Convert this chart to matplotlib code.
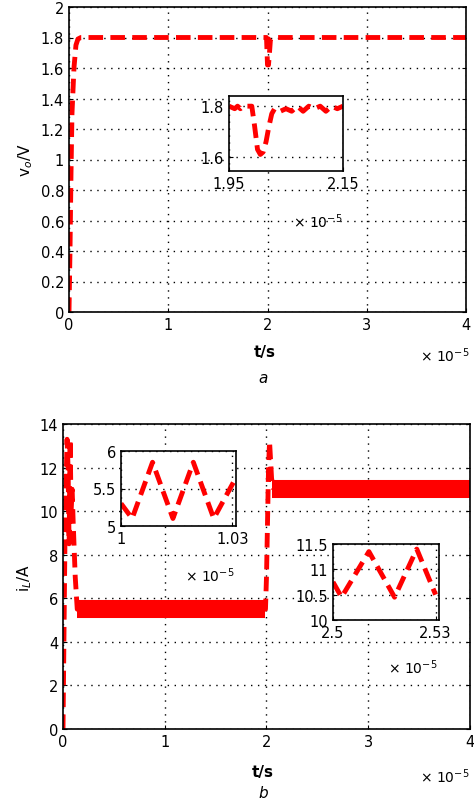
import matplotlib
matplotlib.use("Agg")
import matplotlib.pyplot as plt

RED = "#ff0000"

# panel a: output voltage (time in units of 1e-5 s)
va_t = [0.0, 0.01, 0.02, 0.03, 0.05, 0.07, 0.09, 0.12, 0.5, 1.0, 1.5, 1.98, 1.99, 2.0, 2.01, 2.02, 2.03, 2.05, 3.0, 4.0]
va_v = [0.0, 0.4, 0.9, 1.3, 1.6, 1.75, 1.79, 1.8, 1.8, 1.8, 1.8, 1.8, 1.8, 1.62, 1.62, 1.7, 1.79, 1.8, 1.8, 1.8]
ina_t = [1.95, 1.96, 1.965, 1.97, 1.975, 1.98, 1.99, 1.995, 2.0, 2.005, 2.01, 2.015, 2.02, 2.025, 2.03, 2.04,
         2.05, 2.06, 2.07, 2.08, 2.09, 2.1, 2.11, 2.12, 2.13, 2.14, 2.15]
ina_v = [1.8, 1.79, 1.8, 1.79, 1.8, 1.8, 1.8, 1.72, 1.63, 1.61, 1.62, 1.66, 1.72, 1.77, 1.79, 1.78,
         1.79, 1.78, 1.8, 1.78, 1.8, 1.79, 1.8, 1.78, 1.8, 1.79, 1.8]

# panel b: inductor current
ib_t = [0.0, 0.02, 0.04, 0.05, 0.06, 0.07, 0.08, 0.09, 0.1, 0.12, 0.14, 1.99, 2.0, 2.02, 2.03, 2.05, 2.07]
ib_v = [0.0, 9.0, 13.3, 12.0, 8.5, 13.3, 10.0, 11.0, 9.5, 7.0, 5.5, 5.5, 7.0, 12.0, 13.2, 11.5, 11.0]
band1 = (0.14, 1.99, 5.5)
band2 = (2.05, 4.0, 11.0)
inb1_t = [1.0, 1.003, 1.0085, 1.014, 1.0195, 1.025, 1.0305]
inb1_v = [5.3, 5.1, 5.85, 5.1, 5.85, 5.1, 5.6]
inb2_t = [2.5, 2.5025, 2.5105, 2.518, 2.5245, 2.53]
inb2_v = [10.75, 10.45, 11.35, 10.45, 11.4, 10.5]

fig = plt.figure(figsize=(4.74, 8.04), dpi=100)
W, H = 474.0, 804.0

def ax_at(x0, y0, x1, y1):
    return fig.add_axes([x0 / W, 1 - y1 / H, (x1 - x0) / W, (y1 - y0) / H])

def style(ax, grid=True):
    ax.tick_params(direction="in", top=False, right=True, labelsize=10.5, length=3)
    if grid:
        ax.grid(True, color="black", linestyle=(0, (1, 4)), linewidth=1)
    for s in ax.spines.values():
        s.set_linewidth(1.2)

dash = dict(color=RED, linestyle=(0, (3, 1.5)), linewidth=3.5)

# ---- panel a
axa = ax_at(69, 8, 466, 313)
axa.plot(va_t, va_v, **dash)
axa.set_xlim(0, 4)
axa.set_ylim(0, 2)
axa.set_yticks([0, 0.2, 0.4, 0.6, 0.8, 1, 1.2, 1.4, 1.6, 1.8, 2])
axa.set_yticklabels(["0", "0.2", "0.4", "0.6", "0.8", "1", "1.2", "1.4", "1.6", "1.8", "2"])
axa.set_xticks([0, 1, 2, 3, 4])
style(axa)
axa.set_ylabel("v$_o$/V", fontsize=11)
fig.text(265 / W, 1 - 357 / H, "t/s", ha="center", fontsize=11, fontweight="bold")
fig.text(420 / W, 1 - 362 / H, r"$\times\ 10^{-5}$", fontsize=10)
fig.text(263 / W, 1 - 383 / H, "a", ha="center", fontsize=11, style="italic")

ia = ax_at(229, 97, 343, 172)
ia.plot(ina_t, ina_v, **dash)
ia.set_xlim(1.95, 2.15)
ia.set_ylim(1.545, 1.84)
ia.set_xticks([1.95, 2.15])
ia.set_xticklabels(["1.95", "2.15"])
ia.set_yticks([1.6, 1.8])
ia.set_yticklabels(["1.6", "1.8"])
style(ia)
ia.tick_params(right=False)
fig.text(293 / W, 1 - 228 / H, r"$\times\ 10^{-5}$", fontsize=10)

# ---- panel b
axb = ax_at(63, 425, 470, 730)
axb.plot(ib_t, ib_v, **dash)
for t0, t1, v in (band1, band2):
    axb.plot([t0, t1], [v, v], color=RED, linewidth=13, solid_capstyle="butt")
axb.set_xlim(0, 4)
axb.set_ylim(0, 14)
axb.set_xticks([0, 1, 2, 3, 4])
axb.set_yticks(range(0, 15, 2))
style(axb)
axb.set_ylabel("i$_L$/A", fontsize=11)
fig.text(263 / W, 1 - 777 / H, "t/s", ha="center", fontsize=11, fontweight="bold")
fig.text(420 / W, 1 - 783 / H, r"$\times\ 10^{-5}$", fontsize=10)
fig.text(263 / W, 1 - 798 / H, "b", ha="center", va="baseline", fontsize=11, style="italic")

ib1 = ax_at(121, 452, 236, 527)
ib1.plot(inb1_t, inb1_v, **dash)
ib1.set_xlim(1.0, 1.031)
ib1.set_ylim(5, 6)
ib1.set_xticks([1.0, 1.03])
ib1.set_xticklabels(["1", "1.03"])
ib1.set_yticks([5, 5.5, 6])
ib1.set_yticklabels(["5", "5.5", "6"])
style(ib1)
ib1.tick_params(right=False)
fig.text(185 / W, 1 - 582 / H, r"$\times\ 10^{-5}$", fontsize=10)

ib2 = ax_at(333, 545, 439, 621)
ib2.plot(inb2_t, inb2_v, **dash)
ib2.set_xlim(2.5, 2.531)
ib2.set_ylim(10, 11.5)
ib2.set_xticks([2.5, 2.53])
ib2.set_xticklabels(["2.5", "2.53"])
ib2.set_yticks([10, 10.5, 11, 11.5])
ib2.set_yticklabels(["10", "10.5", "11", "11.5"])
style(ib2)
ib2.tick_params(right=False)
fig.text(388 / W, 1 - 674 / H, r"$\times\ 10^{-5}$", fontsize=10)

fig.savefig("out.png", dpi=100)
